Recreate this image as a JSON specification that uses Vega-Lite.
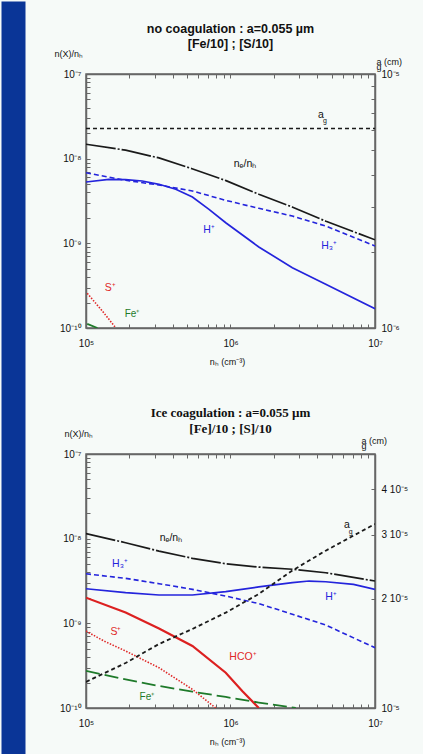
{
  "$schema": "https://vega.github.io/schema/vega-lite/v6.json",
  "background": "#f6faf8",
  "padding": {"left": 0, "top": 0, "right": 10, "bottom": 0},
  "spacing": 27,
  "datasets": {
    "p1": [
      {"s":"ne","n":100000,"v":1.48e-8},{"s":"ne","n":188000,"v":1.26e-8},{"s":"ne","n":320000,"v":1.02e-8},{"s":"ne","n":542000,"v":7.6e-9},{"s":"ne","n":931000,"v":5.5e-9},{"s":"ne","n":1570000,"v":3.8e-9},{"s":"ne","n":2670000,"v":2.69e-9},{"s":"ne","n":4580000,"v":1.82e-9},{"s":"ne","n":10000000,"v":1.1e-9},
      {"s":"H3","n":100000,"v":6.82e-9},{"s":"H3","n":188000,"v":5.55e-9},{"s":"H3","n":320000,"v":4.89e-9},{"s":"H3","n":545000,"v":4.15e-9},{"s":"H3","n":927000,"v":3.22e-9},{"s":"H3","n":1570000,"v":2.59e-9},{"s":"H3","n":2680000,"v":2.1e-9},{"s":"H3","n":4560000,"v":1.6e-9},{"s":"H3","n":10000000,"v":9.3e-10},
      {"s":"H","n":100000,"v":5.3e-9},{"s":"H","n":144000,"v":5.7e-9},{"s":"H","n":188000,"v":5.65e-9},{"s":"H","n":245000,"v":5.45e-9},{"s":"H","n":320000,"v":4.98e-9},{"s":"H","n":418000,"v":4.35e-9},{"s":"H","n":545000,"v":3.52e-9},{"s":"H","n":710000,"v":2.52e-9},{"s":"H","n":927000,"v":1.75e-9},{"s":"H","n":1570000,"v":9.06e-10},{"s":"H","n":2680000,"v":5.15e-10},{"s":"H","n":4560000,"v":3.28e-10},{"s":"H","n":10000000,"v":1.69e-10},
      {"s":"S","n":102000,"v":2.57e-10},{"s":"S","n":130000,"v":1.58e-10},{"s":"S","n":161000,"v":1e-10},
      {"s":"Fe","n":102000,"v":1.12e-10},{"s":"Fe","n":120000,"v":1e-10}
    ],
    "ag1": [{"n":100000,"a":6.1e-6},{"n":10000000,"a":6.1e-6}],
    "l1": [
      {"sp":"ne","t":"nₑ/nₕ","n":1260000,"v":8.65e-9},
      {"sp":"H","t":"H⁺","n":710000,"v":1.44e-9},
      {"sp":"H3","t":"H₃⁺","n":4810000,"v":9.3e-10},
      {"sp":"S","t":"S⁺","n":147000,"v":2.96e-10},
      {"sp":"Fe","t":"Fe⁺","n":208000,"v":1.46e-10},
      {"sp":"ag","t":"a","n":4230000,"v":3.28e-8},
      {"sp":"agsub","t":"g","n":4500000,"v":2.79e-8}
    ],
    "p2": [
      {"s":"ne","n":100000,"v":1.15e-8},{"s":"ne","n":188000,"v":8.95e-9},{"s":"ne","n":320000,"v":7.14e-9},{"s":"ne","n":545000,"v":5.86e-9},{"s":"ne","n":927000,"v":5.06e-9},{"s":"ne","n":1570000,"v":4.62e-9},{"s":"ne","n":2680000,"v":4.35e-9},{"s":"ne","n":4560000,"v":3.96e-9},{"s":"ne","n":10000000,"v":3.16e-9},
      {"s":"H3","n":100000,"v":3.85e-9},{"s":"H3","n":188000,"v":3.4e-9},{"s":"H3","n":320000,"v":2.94e-9},{"s":"H3","n":545000,"v":2.52e-9},{"s":"H3","n":927000,"v":2.1e-9},{"s":"H3","n":1570000,"v":1.71e-9},{"s":"H3","n":2680000,"v":1.28e-9},{"s":"H3","n":4560000,"v":9.55e-10},{"s":"H3","n":10000000,"v":5.15e-10},
      {"s":"H","n":100000,"v":2.56e-9},{"s":"H","n":188000,"v":2.3e-9},{"s":"H","n":320000,"v":2.16e-9},{"s":"H","n":545000,"v":2.16e-9},{"s":"H","n":927000,"v":2.37e-9},{"s":"H","n":1570000,"v":2.69e-9},{"s":"H","n":2680000,"v":3.02e-9},{"s":"H","n":3500000,"v":3.16e-9},{"s":"H","n":4560000,"v":3.1e-9},{"s":"H","n":7100000,"v":2.89e-9},{"s":"H","n":10000000,"v":2.52e-9},
      {"s":"HCO","n":100000,"v":2.01e-9},{"s":"HCO","n":188000,"v":1.34e-9},{"s":"HCO","n":320000,"v":8.69e-10},{"s":"HCO","n":545000,"v":5.4e-10},{"s":"HCO","n":927000,"v":2.61e-10},{"s":"HCO","n":1210000,"v":1.58e-10},{"s":"HCO","n":1570000,"v":1e-10},
      {"s":"S","n":100000,"v":8.11e-10},{"s":"S","n":133000,"v":6.18e-10},{"s":"S","n":188000,"v":4.71e-10},{"s":"S","n":320000,"v":2.99e-10},{"s":"S","n":545000,"v":1.66e-10},{"s":"S","n":790000,"v":1e-10},
      {"s":"Fe","n":100000,"v":2.74e-10},{"s":"Fe","n":188000,"v":2.18e-10},{"s":"Fe","n":320000,"v":1.82e-10},{"s":"Fe","n":545000,"v":1.56e-10},{"s":"Fe","n":927000,"v":1.35e-10},{"s":"Fe","n":1570000,"v":1.16e-10},{"s":"Fe","n":2830000,"v":1e-10}
    ],
    "ag2": [
      {"n":100000,"a":1.18e-5},{"n":188000,"a":1.33e-5},{"n":320000,"a":1.5e-5},{"n":545000,"a":1.65e-5},{"n":927000,"a":1.83e-5},{"n":1570000,"a":2.06e-5},{"n":2680000,"a":2.39e-5},{"n":4560000,"a":2.71e-5},{"n":10000000,"a":3.21e-5}
    ],
    "l2": [
      {"sp":"ne","t":"nₑ/nₕ","n":387000,"v":1.02e-8},
      {"sp":"H3","t":"H₃⁺","n":172000,"v":5.03e-9},
      {"sp":"H","t":"H⁺","n":4970000,"v":2.05e-9},
      {"sp":"S","t":"S⁺","n":161000,"v":7.9e-10},
      {"sp":"HCO","t":"HCO⁺","n":1220000,"v":4.0e-10},
      {"sp":"Fe","t":"Fe⁺","n":264000,"v":1.35e-10},
      {"sp":"ag","t":"a","n":6400000,"v":1.45e-8},
      {"sp":"agsub","t":"g","n":6800000,"v":1.2e-8}
    ]
  },
  "hconcat": [
    {
      "width": 24,
      "height": 754,
      "view": {"fill": "#0a3597", "stroke": "transparent"},
      "data": {"values": []},
      "mark": {"type": "rect", "opacity": 0},
      "encoding": {}
    },
    {
      "spacing": 53,
      "bounds": "flush",
      "vconcat": [
        {
          "width": 289,
          "height": 20,
          "view": {"stroke": "transparent"},
          "title": {"text": ["no coagulation : a=0.055 µm", "[Fe/10] ; [S/10]"], "orient": "bottom", "font": "Liberation Sans", "fontSize": 12.5, "fontWeight": "bold", "lineHeight": 15, "offset": 2},
          "data": {"values": []},
          "mark": {"type": "rect", "opacity": 0},
          "encoding": {}
        },
        {
          "width": 289,
          "height": 254,
          "layer": [
            {
              "encoding": {
                "x": {"field": "n", "type": "quantitative", "scale": {"type": "log", "domain": [100000, 10000000], "nice": false},
                  "axis": {"orient": "bottom", "values": [100000,200000,300000,400000,500000,600000,700000,800000,900000,1000000,2000000,3000000,4000000,5000000,6000000,7000000,8000000,9000000,10000000],
                    "labelExpr": "datum.value==100000?'10⁵':datum.value==1000000?'10⁶':datum.value==10000000?'10⁷':''",
                    "labelPadding": 14, "title": "nₕ (cm⁻³)", "titleX": 141, "titleY": 33, "titleAlign": "center", "titleBaseline": "middle"}},
                "y": {"field": "v", "type": "quantitative", "scale": {"type": "log", "domain": [1e-10, 1e-7], "nice": false},
                  "axis": {"orient": "left", "values": [1e-10,2e-10,3e-10,4e-10,5e-10,6e-10,7e-10,8e-10,9e-10,1e-9,2e-9,3e-9,4e-9,5e-9,6e-9,7e-9,8e-9,9e-9,1e-8,2e-8,3e-8,4e-8,5e-8,6e-8,7e-8,8e-8,9e-8,1e-7],
                    "labelExpr": "datum.value==1e-7?'10⁻⁷':datum.value==1e-8?'10⁻⁸':datum.value==1e-9?'10⁻⁹':datum.value==1e-10?'10⁻¹⁰':''",
                    "labelPadding": 9, "title": "n(X)/nₕ", "titleAngle": 0, "titleAlign": "left", "titleBaseline": "middle", "titleX": -32, "titleY": -21}}
              },
              "layer": [
                {"data": {"name": "p1"}, "transform": [{"filter": "datum.s=='ne'"}], "mark": {"type": "line", "color": "#1a1a1a", "strokeWidth": 1.7, "strokeDash": [30, 2, 2, 2], "clip": true}},
                {"data": {"name": "p1"}, "transform": [{"filter": "datum.s=='H3'"}], "mark": {"type": "line", "color": "#2424dc", "strokeWidth": 1.6, "strokeDash": [5, 3], "clip": true}},
                {"data": {"name": "p1"}, "transform": [{"filter": "datum.s=='H'"}], "mark": {"type": "line", "color": "#2424dc", "strokeWidth": 1.7, "clip": true}},
                {"data": {"name": "p1"}, "transform": [{"filter": "datum.s=='S'"}], "mark": {"type": "line", "color": "#e02828", "strokeWidth": 1.6, "strokeDash": [1.5, 1.5], "clip": true}},
                {"data": {"name": "p1"}, "transform": [{"filter": "datum.s=='Fe'"}], "mark": {"type": "line", "color": "#1e7a2a", "strokeWidth": 1.8, "clip": true}},
                {"data": {"name": "l1"}, "transform": [{"filter": "datum.sp=='ne'||datum.sp=='ag'"}], "mark": {"type": "text", "color": "#111", "font": "Liberation Sans", "fontSize": 10.5}, "encoding": {"text": {"field": "t"}}},
                {"data": {"name": "l1"}, "transform": [{"filter": "datum.sp=='agsub'"}], "mark": {"type": "text", "color": "#111", "font": "Liberation Sans", "fontSize": 7}, "encoding": {"text": {"field": "t"}}},
                {"data": {"name": "l1"}, "transform": [{"filter": "datum.sp=='H'||datum.sp=='H3'"}], "mark": {"type": "text", "color": "#2424dc", "font": "Liberation Sans", "fontSize": 10.5}, "encoding": {"text": {"field": "t"}}},
                {"data": {"name": "l1"}, "transform": [{"filter": "datum.sp=='S'"}], "mark": {"type": "text", "color": "#e02828", "font": "Liberation Sans", "fontSize": 10.5}, "encoding": {"text": {"field": "t"}}},
                {"data": {"name": "l1"}, "transform": [{"filter": "datum.sp=='Fe'"}], "mark": {"type": "text", "color": "#1e7a2a", "font": "Liberation Sans", "fontSize": 10}, "encoding": {"text": {"field": "t"}}}
              ]
            },
            {
              "data": {"name": "ag1"},
              "mark": {"type": "line", "color": "#1a1a1a", "strokeWidth": 1.4, "strokeDash": [4, 3], "clip": true},
              "encoding": {
                "x": {"field": "n", "type": "quantitative", "scale": {"type": "log", "domain": [100000, 10000000], "nice": false},
                  "axis": {"orient": "top", "values": [100000,200000,300000,400000,500000,600000,700000,800000,900000,1000000,2000000,3000000,4000000,5000000,6000000,7000000,8000000,9000000,10000000], "labels": false, "title": null}},
                "y": {"field": "a", "type": "quantitative", "scale": {"type": "log", "domain": [1e-6, 1e-5], "nice": false},
                  "axis": {"orient": "right", "values": [1e-6,2e-6,3e-6,4e-6,5e-6,6e-6,7e-6,8e-6,9e-6,1e-5],
                    "labelExpr": "datum.value==1e-6?'10⁻⁶':datum.value==1e-5?'10⁻⁵':''",
                    "labelPadding": 10, "labelAlign": "left",
                    "title": ["a      (cm)", "  g"], "titleLineHeight": 5, "titleAngle": 0, "titleAlign": "left", "titleBaseline": "middle", "titleX": 1, "titleY": -12.5}}
              }
            }
          ],
          "resolve": {"scale": {"x": "independent", "y": "independent"}, "axis": {"x": "independent", "y": "independent"}}
        },
        {
          "width": 289,
          "height": 20,
          "view": {"stroke": "transparent"},
          "title": {"text": ["Ice coagulation : a=0.055 µm", "[Fe]/10 ; [S]/10"], "orient": "bottom", "font": "Liberation Serif", "fontSize": 13, "fontWeight": "bold", "lineHeight": 16, "offset": 6},
          "data": {"values": []},
          "mark": {"type": "rect", "opacity": 0},
          "encoding": {}
        },
        {
          "width": 289,
          "height": 254,
          "layer": [
            {
              "encoding": {
                "x": {"field": "n", "type": "quantitative", "scale": {"type": "log", "domain": [100000, 10000000], "nice": false},
                  "axis": {"orient": "bottom", "values": [100000,200000,300000,400000,500000,600000,700000,800000,900000,1000000,2000000,3000000,4000000,5000000,6000000,7000000,8000000,9000000,10000000],
                    "labelExpr": "datum.value==100000?'10⁵':datum.value==1000000?'10⁶':datum.value==10000000?'10⁷':''",
                    "labelPadding": 14, "title": "nₕ (cm⁻³)", "titleX": 141, "titleY": 33, "titleAlign": "center", "titleBaseline": "middle"}},
                "y": {"field": "v", "type": "quantitative", "scale": {"type": "log", "domain": [1e-10, 1e-7], "nice": false},
                  "axis": {"orient": "left", "values": [1e-10,2e-10,3e-10,4e-10,5e-10,6e-10,7e-10,8e-10,9e-10,1e-9,2e-9,3e-9,4e-9,5e-9,6e-9,7e-9,8e-9,9e-9,1e-8,2e-8,3e-8,4e-8,5e-8,6e-8,7e-8,8e-8,9e-8,1e-7],
                    "labelExpr": "datum.value==1e-7?'10⁻⁷':datum.value==1e-8?'10⁻⁸':datum.value==1e-9?'10⁻⁹':datum.value==1e-10?'10⁻¹⁰':''",
                    "labelPadding": 9, "title": "n(X)/nₕ", "titleAngle": 0, "titleAlign": "left", "titleBaseline": "middle", "titleX": -22, "titleY": -21}}
              },
              "layer": [
                {"data": {"name": "p2"}, "transform": [{"filter": "datum.s=='ne'"}], "mark": {"type": "line", "color": "#1a1a1a", "strokeWidth": 1.7, "strokeDash": [30, 2, 2, 2], "clip": true}},
                {"data": {"name": "p2"}, "transform": [{"filter": "datum.s=='H3'"}], "mark": {"type": "line", "color": "#2424dc", "strokeWidth": 1.6, "strokeDash": [5, 3], "clip": true}},
                {"data": {"name": "p2"}, "transform": [{"filter": "datum.s=='H'"}], "mark": {"type": "line", "color": "#2424dc", "strokeWidth": 1.7, "clip": true}},
                {"data": {"name": "p2"}, "transform": [{"filter": "datum.s=='HCO'"}], "mark": {"type": "line", "color": "#dc2020", "strokeWidth": 2.2, "clip": true}},
                {"data": {"name": "p2"}, "transform": [{"filter": "datum.s=='S'"}], "mark": {"type": "line", "color": "#e02828", "strokeWidth": 1.6, "strokeDash": [1.5, 1.5], "clip": true}},
                {"data": {"name": "p2"}, "transform": [{"filter": "datum.s=='Fe'"}], "mark": {"type": "line", "color": "#1e7a2a", "strokeWidth": 1.8, "strokeDash": [14, 5], "clip": true}},
                {"data": {"name": "l2"}, "transform": [{"filter": "datum.sp=='ne'||datum.sp=='ag'"}], "mark": {"type": "text", "color": "#111", "font": "Liberation Sans", "fontSize": 10.5}, "encoding": {"text": {"field": "t"}}},
                {"data": {"name": "l2"}, "transform": [{"filter": "datum.sp=='agsub'"}], "mark": {"type": "text", "color": "#111", "font": "Liberation Sans", "fontSize": 7}, "encoding": {"text": {"field": "t"}}},
                {"data": {"name": "l2"}, "transform": [{"filter": "datum.sp=='H'||datum.sp=='H3'"}], "mark": {"type": "text", "color": "#2424dc", "font": "Liberation Sans", "fontSize": 10.5}, "encoding": {"text": {"field": "t"}}},
                {"data": {"name": "l2"}, "transform": [{"filter": "datum.sp=='S'||datum.sp=='HCO'"}], "mark": {"type": "text", "color": "#e02828", "font": "Liberation Sans", "fontSize": 10.5}, "encoding": {"text": {"field": "t"}}},
                {"data": {"name": "l2"}, "transform": [{"filter": "datum.sp=='Fe'"}], "mark": {"type": "text", "color": "#1e7a2a", "font": "Liberation Sans", "fontSize": 10}, "encoding": {"text": {"field": "t"}}}
              ]
            },
            {
              "data": {"name": "ag2"},
              "mark": {"type": "line", "color": "#1a1a1a", "strokeWidth": 1.8, "strokeDash": [4, 3], "clip": true},
              "encoding": {
                "x": {"field": "n", "type": "quantitative", "scale": {"type": "log", "domain": [100000, 10000000], "nice": false},
                  "axis": {"orient": "top", "values": [100000,200000,300000,400000,500000,600000,700000,800000,900000,1000000,2000000,3000000,4000000,5000000,6000000,7000000,8000000,9000000,10000000], "labels": false, "title": null}},
                "y": {"field": "a", "type": "quantitative", "scale": {"type": "log", "domain": [1e-5, 5e-5], "nice": false},
                  "axis": {"orient": "right", "values": [1e-5, 2e-5, 3e-5, 4e-5],
                    "labelExpr": "datum.value==1e-5?'10⁻⁵':datum.value==2e-5?'2 10⁻⁵':datum.value==3e-5?'3 10⁻⁵':'4 10⁻⁵'",
                    "labelPadding": 10, "labelAlign": "left",
                    "title": ["a      (cm)", "  g"], "titleLineHeight": 5, "titleAngle": 0, "titleAlign": "left", "titleBaseline": "middle", "titleX": -14, "titleY": -13.5}}
              }
            }
          ],
          "resolve": {"scale": {"x": "independent", "y": "independent"}, "axis": {"x": "independent", "y": "independent"}}
        }
      ]
    }
  ],
  "config": {
    "view": {"stroke": "#666", "strokeWidth": 1.5},
    "title": {"anchor": "middle", "frame": "group", "color": "#111"},
    "axis": {"grid": false, "domainColor": "#666", "domainWidth": 1.5, "tickColor": "#666", "tickWidth": 1, "tickSize": -4,
      "labelFont": "Liberation Sans", "labelFontSize": 10, "labelColor": "#111", "labelFlush": false, "labelOverlap": false,
      "titleFont": "Liberation Sans", "titleFontSize": 9, "titleFontWeight": "normal", "titleColor": "#111"}
  }
}
